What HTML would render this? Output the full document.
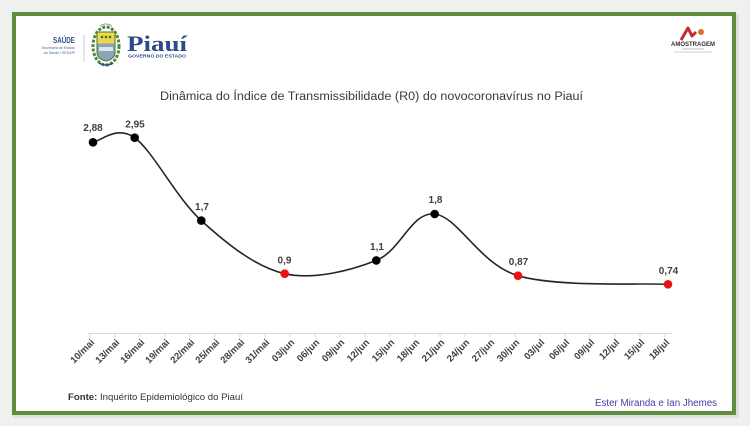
<!DOCTYPE html>
<html>
<head>
<meta charset="utf-8">
<style>
  html,body{margin:0;padding:0;background:#eff1ef;}
  svg{display:block;}
</style>
</head>
<body>
<svg width="750" height="426" viewBox="0 0 750 426" xmlns="http://www.w3.org/2000/svg" font-family="'Liberation Sans', 'DejaVu Sans', sans-serif">
  <rect x="0" y="0" width="750" height="426" fill="#eff1ef"/>
  <rect x="13" y="14" width="726" height="404" fill="#dde0dd"/>
  <rect x="14" y="14" width="720" height="399" fill="#ffffff" stroke="#5e8e3e" stroke-width="4"/>

  <!-- SAUDE logo -->
  <text x="75" y="43" font-size="8" font-weight="bold" fill="#2d4f8e" text-anchor="end" textLength="22" lengthAdjust="spacingAndGlyphs">SAÚDE</text>
  <text x="75" y="49" font-size="3.6" fill="#4a6a9a" text-anchor="end">Secretaria de Estado</text>
  <text x="75" y="54" font-size="3.6" fill="#4a6a9a" text-anchor="end">da Saúde / SESAPI</text>
  <line x1="84" y1="35" x2="84" y2="62" stroke="#c8ccd0" stroke-width="1"/>

  <!-- Seal -->
  <g>
    <ellipse cx="106" cy="46" rx="13" ry="19" fill="none" stroke="#4f8a3a" stroke-width="3" stroke-dasharray="3 1.5"/>
    <path d="M97 32 L115 32 L115 52 Q115 59 106 61 Q97 59 97 52 Z" fill="#8aa5b8" stroke="#3f7a2e" stroke-width="1"/>
    <rect x="97.5" y="32.5" width="17" height="11" fill="#f1d64a"/>
    <circle cx="102" cy="37" r="1.3" fill="#2a7a2a"/>
    <circle cx="106" cy="37" r="1.3" fill="#2a7a2a"/>
    <circle cx="110" cy="37" r="1.3" fill="#2a7a2a"/>
    <rect x="99" y="47" width="14" height="4" fill="#dfe6ea"/>
    <path d="M100 26 Q106 22 112 26" fill="none" stroke="#999" stroke-width="1"/>
    <path d="M99 63 Q106 67 113 63" fill="none" stroke="#2d4f8e" stroke-width="1.5"/>
  </g>

  <!-- Piaui -->
  <text x="127" y="51" font-family="'Liberation Serif', serif" font-size="22" font-weight="bold" fill="#2b4b8c" textLength="60" lengthAdjust="spacingAndGlyphs">Piauí</text>
  <text x="128" y="57.5" font-size="4.6" font-weight="bold" fill="#2b4b8c" textLength="58" lengthAdjust="spacingAndGlyphs">GOVERNO DO ESTADO</text>

  <!-- Amostragem logo -->
  <g>
    <path d="M681 40 L688 28 L692 36 L696 32" fill="none" stroke="#c8282e" stroke-width="3" stroke-linejoin="round"/>
    <circle cx="701" cy="32" r="3" fill="#e06a2a"/>
    <text x="693" y="46" font-size="6" font-weight="bold" fill="#333" text-anchor="middle" textLength="44" lengthAdjust="spacingAndGlyphs">AMOSTRAGEM</text>
    <line x1="682" y1="49" x2="704" y2="49" stroke="#aaa" stroke-width="0.8"/>
    <line x1="674" y1="52" x2="712" y2="52" stroke="#bbb" stroke-width="0.8"/>
  </g>

  <!-- Title -->
  <text x="160" y="100" font-size="11.5" fill="#3a3a3a" textLength="423" lengthAdjust="spacingAndGlyphs">Dinâmica do Índice de Transmissibilidade (R0)  do novocoronavírus no Piauí</text>

  <!-- axis -->
  <line x1="88" y1="333.5" x2="672" y2="333.5" stroke="#d9d9d9" stroke-width="1"/>
  <g stroke="#d9d9d9" stroke-width="1">
    <line x1="90" y1="333" x2="90" y2="337"/>
    <line x1="115" y1="333" x2="115" y2="337"/>
    <line x1="140" y1="333" x2="140" y2="337"/>
    <line x1="165" y1="333" x2="165" y2="337"/>
    <line x1="190" y1="333" x2="190" y2="337"/>
    <line x1="215" y1="333" x2="215" y2="337"/>
    <line x1="240" y1="333" x2="240" y2="337"/>
    <line x1="265" y1="333" x2="265" y2="337"/>
    <line x1="290" y1="333" x2="290" y2="337"/>
    <line x1="315" y1="333" x2="315" y2="337"/>
    <line x1="340" y1="333" x2="340" y2="337"/>
    <line x1="365" y1="333" x2="365" y2="337"/>
    <line x1="390" y1="333" x2="390" y2="337"/>
    <line x1="415" y1="333" x2="415" y2="337"/>
    <line x1="440" y1="333" x2="440" y2="337"/>
    <line x1="465" y1="333" x2="465" y2="337"/>
    <line x1="490" y1="333" x2="490" y2="337"/>
    <line x1="515" y1="333" x2="515" y2="337"/>
    <line x1="540" y1="333" x2="540" y2="337"/>
    <line x1="565" y1="333" x2="565" y2="337"/>
    <line x1="590" y1="333" x2="590" y2="337"/>
    <line x1="615" y1="333" x2="615" y2="337"/>
    <line x1="640" y1="333" x2="640" y2="337"/>
    <line x1="665" y1="333" x2="665" y2="337"/>
  </g>

  <!-- x tick labels -->
  <g font-size="9.5" font-weight="bold" fill="#404040" text-anchor="end">
    <text transform="translate(95,343) rotate(-45)">10/mai</text>
    <text transform="translate(120,343) rotate(-45)">13/mai</text>
    <text transform="translate(145,343) rotate(-45)">16/mai</text>
    <text transform="translate(170,343) rotate(-45)">19/mai</text>
    <text transform="translate(195,343) rotate(-45)">22/mai</text>
    <text transform="translate(220,343) rotate(-45)">25/mai</text>
    <text transform="translate(245,343) rotate(-45)">28/mai</text>
    <text transform="translate(270,343) rotate(-45)">31/mai</text>
    <text transform="translate(295,343) rotate(-45)">03/jun</text>
    <text transform="translate(320,343) rotate(-45)">06/jun</text>
    <text transform="translate(345,343) rotate(-45)">09/jun</text>
    <text transform="translate(370,343) rotate(-45)">12/jun</text>
    <text transform="translate(395,343) rotate(-45)">15/jun</text>
    <text transform="translate(420,343) rotate(-45)">18/jun</text>
    <text transform="translate(445,343) rotate(-45)">21/jun</text>
    <text transform="translate(470,343) rotate(-45)">24/jun</text>
    <text transform="translate(495,343) rotate(-45)">27/jun</text>
    <text transform="translate(520,343) rotate(-45)">30/jun</text>
    <text transform="translate(545,343) rotate(-45)">03/jul</text>
    <text transform="translate(570,343) rotate(-45)">06/jul</text>
    <text transform="translate(595,343) rotate(-45)">09/jul</text>
    <text transform="translate(620,343) rotate(-45)">12/jul</text>
    <text transform="translate(645,343) rotate(-45)">15/jul</text>
    <text transform="translate(670,343) rotate(-45)">18/jul</text>
  </g>

  <!-- smooth line -->
  <path d="M93 142.3
           C99.95 141.53 116.65 124.65 134.7 137.7
           C152.75 150.75 176.3 197.93 201.3 220.6
           C226.3 243.27 255.53 267.07 284.7 273.7
           C313.87 280.33 351.3 270.35 376.3 260.4
           C401.3 250.45 411.08 211.45 434.7 214
           C458.32 216.55 479.12 263.98 518 275.7
           C556.88 287.42 643 282.87 668 284.3"
        fill="none" stroke="#262626" stroke-width="1.6"/>

  <!-- markers -->
  <circle cx="93" cy="142.3" r="4.3" fill="#000"/>
  <circle cx="134.7" cy="137.7" r="4.3" fill="#000"/>
  <circle cx="201.3" cy="220.6" r="4.3" fill="#000"/>
  <circle cx="284.7" cy="273.7" r="4.3" fill="#ee1111"/>
  <circle cx="376.3" cy="260.4" r="4.3" fill="#000"/>
  <circle cx="434.7" cy="214" r="4.3" fill="#000"/>
  <circle cx="518" cy="275.7" r="4.3" fill="#ee1111"/>
  <circle cx="668" cy="284.3" r="4.3" fill="#ee1111"/>

  <!-- data labels -->
  <g font-size="10" font-weight="bold" fill="#404040" text-anchor="middle">
    <text x="93" y="131">2,88</text>
    <text x="135" y="127.5">2,95</text>
    <text x="202" y="210">1,7</text>
    <text x="284.5" y="263.5">0,9</text>
    <text x="377" y="250">1,1</text>
    <text x="435.5" y="203">1,8</text>
    <text x="518.5" y="265">0,87</text>
    <text x="668.5" y="274">0,74</text>
  </g>

  <!-- footer -->
  <text x="68" y="400" font-size="9.5" fill="#333" textLength="175" lengthAdjust="spacingAndGlyphs"><tspan font-weight="bold">Fonte:</tspan> Inquérito Epidemiológico do Piauí</text>
  <text x="595" y="406" font-size="10" fill="#4040a8" textLength="122" lengthAdjust="spacingAndGlyphs">Ester Miranda e Ian Jhemes</text>
</svg>
</body>
</html>
